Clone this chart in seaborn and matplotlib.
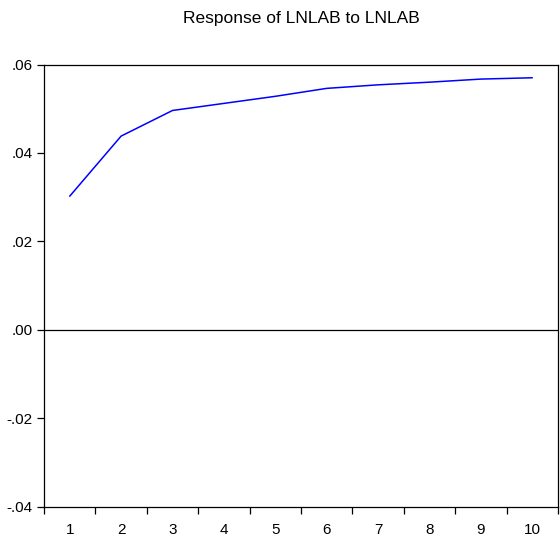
import matplotlib
matplotlib.use("Agg")
import matplotlib.pyplot as plt
import seaborn as sns
import pandas as pd
import numpy as np

periods = [1, 2, 3, 4, 5, 6, 7, 8, 9, 10]
response = [0.0302, 0.0438, 0.0496, 0.0512, 0.0528, 0.0546, 0.0554, 0.0560, 0.0567, 0.0570]
y_ticks = [0.06, 0.04, 0.02, 0.00, -0.02, -0.04]
y_tick_labels = [".06", ".04", ".02", ".00", "-.02", "-.04"]
x_tick_labels = ["1", "2", "3", "4", "5", "6", "7", "8", "9", "10"]
title = "Response of LNLAB to LNLAB"

sns.set_theme(style="white")
plt.rcParams['font.family'] = ['Liberation Sans', 'DejaVu Sans']

fig = plt.figure(figsize=(5.6, 5.46), dpi=100)
ax = fig.add_axes([44/560, 1-506.5/546, (558-44)/560, (506.5-64.5)/546])

df = pd.DataFrame({"period": periods, "response": response})
sns.lineplot(data=df, x="period", y="response", ax=ax, color="#0000ff", linewidth=1.1)
ax.axhline(0, color="black", linewidth=0.9)

ax.set_xlim(0.5, 10.5)
ax.set_ylim(-0.04, 0.06)
ax.set_yticks(y_ticks)
ax.set_yticklabels(y_tick_labels)
ax.set_xticks(periods)
ax.set_xticklabels(x_tick_labels)
ax.set_xticks(np.arange(0.5, 11.0, 1.0), minor=True)
ax.tick_params(axis="x", which="major", length=0, pad=12, labelsize=11, colors="black")
ax.tick_params(axis="x", which="minor", length=5, width=0.9, direction="out", color="black", bottom=True)
ax.tick_params(axis="y", which="major", length=5, width=0.9, direction="out", pad=3, labelsize=11, colors="black", left=True)
ax.set_xlabel("")
ax.set_ylabel("")
for s in ax.spines.values():
    s.set_color("black")
    s.set_linewidth(0.9)
    s.set_visible(True)

fig.text(0.5 * (44 + 558) / 560, 1 - 18/546, title, ha="center", va="center", fontsize=12.5, color="black")

fig.savefig("out.png", dpi=100)
